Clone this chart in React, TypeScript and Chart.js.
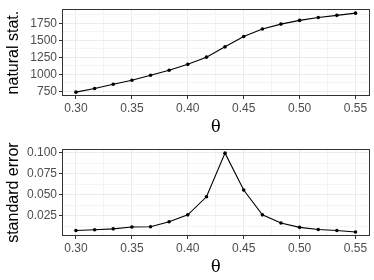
import React, { useEffect, useRef } from "react";
import { Chart, registerables } from "chart.js";

Chart.register(...registerables);

const thetaValues = [0.3, 0.3167, 0.3333, 0.35, 0.3667, 0.3833, 0.4, 0.4167, 0.4333, 0.45, 0.4667, 0.4833, 0.5, 0.5167, 0.5333, 0.55];
const naturalStat = [737, 790, 853, 912, 986, 1060, 1147, 1253, 1405, 1557, 1667, 1740, 1795, 1837, 1869, 1902];
const standardError = [0.0072, 0.008, 0.0091, 0.0113, 0.0117, 0.0176, 0.0258, 0.0473, 0.0993, 0.0554, 0.0258, 0.0161, 0.0109, 0.0083, 0.0072, 0.0053];

const xMajorTicks = [0.3, 0.35, 0.4, 0.45, 0.5, 0.55];
const xMinorTicks = [0.325, 0.375, 0.425, 0.475, 0.525];
const topYMajorTicks = [750, 1000, 1250, 1500, 1750];
const topYMinorTicks = [875, 1125, 1375, 1625, 1875];
const botYMajorTicks = [0.025, 0.05, 0.075, 0.1];
const botYMinorTicks = [0.0125, 0.0375, 0.0625, 0.0875];

const SANS = "'Liberation Sans', Arial, sans-serif";

const isMajor = (list: number[], v: number) => list.some((m) => Math.abs(m - v) < 1e-9);

const panelBorder = {
  id: "panelBorder",
  afterDraw(chart: any) {
    const { ctx, chartArea } = chart;
    ctx.save();
    ctx.strokeStyle = "#333333";
    ctx.lineWidth = 1;
    ctx.strokeRect(
      Math.round(chartArea.left) + 0.5,
      Math.round(chartArea.top) + 0.5,
      Math.round(chartArea.right - chartArea.left) - 1,
      Math.round(chartArea.bottom - chartArea.top) - 1
    );
    ctx.restore();
  },
};

function makeConfig(
  values: number[],
  yMin: number,
  yMax: number,
  yMajor: number[],
  yMinor: number[],
  yTitle: string,
  yFormat: (v: number) => string
): any {
  const allX = [...xMajorTicks, ...xMinorTicks].sort((a, b) => a - b);
  const allY = [...yMajor, ...yMinor].sort((a, b) => a - b);
  return {
    type: "line",
    data: {
      datasets: [
        {
          data: thetaValues.map((t, i) => ({ x: t, y: values[i] })),
          borderColor: "#000000",
          backgroundColor: "#000000",
          borderWidth: 1.1,
          pointRadius: 1.8,
          pointBorderWidth: 0,
          pointBackgroundColor: "#000000",
          tension: 0,
        },
      ],
    },
    options: {
      responsive: false,
      animation: false,
      layout: { padding: { left: 0, right: 4.5, top: 3.5, bottom: 0 } },
      plugins: { legend: { display: false }, tooltip: { enabled: false } },
      scales: {
        x: {
          type: "linear",
          min: 0.2875,
          max: 0.5625,
          afterBuildTicks: (scale: any) => {
            scale.ticks = allX.map((v) => ({ value: v }));
          },
          afterFit: (scale: any) => {
            scale.height = 44;
          },
          border: { display: false },
          grid: {
            color: (c: any) => (c.tick && isMajor(xMajorTicks, c.tick.value) ? "#EBEBEB" : "#F4F4F4"),
            lineWidth: 1,
            tickLength: 3,
            tickColor: (c: any) => (c.tick && isMajor(xMajorTicks, c.tick.value) ? "#333333" : "rgba(0,0,0,0)"),
            tickWidth: 1,
          },
          ticks: {
            autoSkip: false,
            maxRotation: 0,
            padding: 2,
            color: "#4D4D4D",
            font: { family: SANS, size: 12 },
            callback: (v: any) => (isMajor(xMajorTicks, Number(v)) ? Number(v).toFixed(2) : ""),
          },
          title: {
            display: true,
            text: "θ",
            color: "#000000",
            font: { family: "'DejaVu Serif', 'Liberation Serif', serif", size: 16 },
            padding: { top: 0, bottom: 2.5 },
          },
        },
        y: {
          type: "linear",
          min: yMin,
          max: yMax,
          afterBuildTicks: (scale: any) => {
            scale.ticks = allY.map((v) => ({ value: v }));
          },
          afterFit: (scale: any) => {
            scale.width = 62;
          },
          border: { display: false },
          grid: {
            color: (c: any) => (c.tick && isMajor(yMajor, c.tick.value) ? "#EBEBEB" : "#F4F4F4"),
            lineWidth: 1,
            tickLength: 3,
            tickColor: (c: any) => (c.tick && isMajor(yMajor, c.tick.value) ? "#333333" : "rgba(0,0,0,0)"),
            tickWidth: 1,
          },
          ticks: {
            autoSkip: false,
            padding: 2,
            color: "#4D4D4D",
            font: { family: SANS, size: 12 },
            callback: (v: any) => (isMajor(yMajor, Number(v)) ? yFormat(Number(v)) : ""),
          },
          title: {
            display: true,
            text: yTitle,
            color: "#000000",
            font: { family: SANS, size: 16 },
            padding: { top: 4, bottom: 0 },
          },
        },
      },
    },
    plugins: [panelBorder],
  };
}

function Panel(props: { config: any }) {
  const ref = useRef<HTMLCanvasElement | null>(null);
  useEffect(() => {
    if (!ref.current) return;
    const chart = new Chart(ref.current, props.config);
    return () => chart.destroy();
  }, []);
  return <canvas ref={ref} width={374} height={140} style={{ display: "block", width: 374, height: 140 }} />;
}

export default function App() {
  const topConfig = makeConfig(naturalStat, 680, 1960, topYMajorTicks, topYMinorTicks, "natural stat.", (v) => String(v));
  const botConfig = makeConfig(standardError, 0.0006, 0.104, botYMajorTicks, botYMinorTicks, "standard error", (v) => v.toFixed(3));
  return (
    <div style={{ position: "absolute", left: 0, top: 0, width: 374, height: 280, background: "#ffffff" }}>
      <Panel config={topConfig} />
      <Panel config={botConfig} />
    </div>
  );
}
